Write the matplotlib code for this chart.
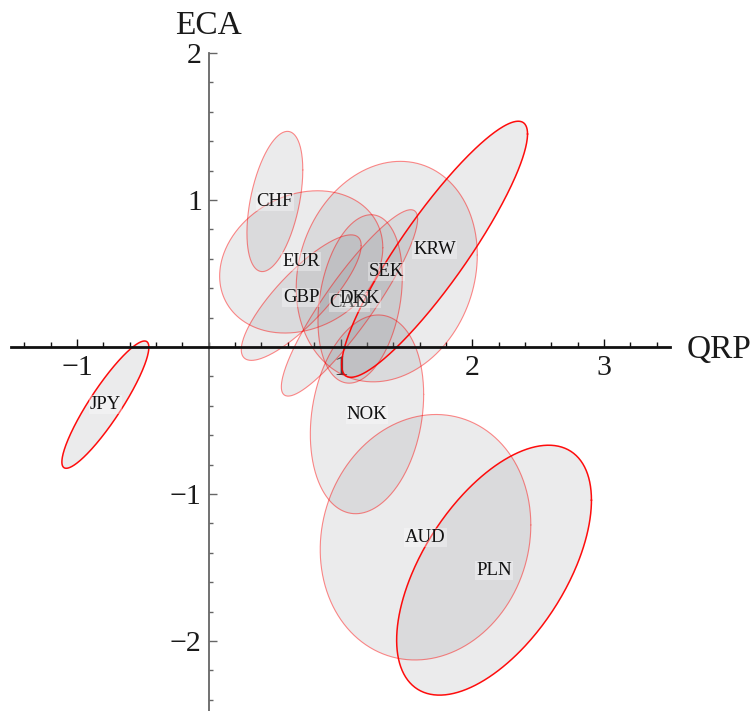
import numpy as np
import matplotlib
matplotlib.use("Agg")
import matplotlib.pyplot as plt
from matplotlib.ticker import FixedLocator, FixedFormatter

# Currency confidence regions: centre, half-widths and correlation of QRP vs ECA
currencies = ["JPY", "CHF", "EUR", "GBP", "CAD", "DKK", "SEK", "KRW", "NOK", "AUD", "PLN"]
qrp_mean = [-0.784, 0.502, 0.702, 0.702, 1.068, 1.149, 1.351, 1.714, 1.201, 1.645, 2.165]
eca_mean = [-0.392, 0.990, 0.579, 0.336, 0.300, 0.327, 0.513, 0.665, -0.458, -1.294, -1.518]
qrp_halfwidth = [0.330, 0.212, 0.619, 0.455, 0.517, 0.320, 0.687, 0.705, 0.430, 0.799, 0.739]
eca_halfwidth = [0.433, 0.477, 0.484, 0.427, 0.634, 0.573, 0.750, 0.871, 0.676, 0.835, 0.850]
correlation = [0.90, 0.45, 0.20, 0.83, 0.90, 0.26, 0.15, 0.90, 0.20, 0.10, 0.56]
highlighted = ["JPY", "KRW", "PLN"]

x_ticks = [-1, 1, 2, 3]
y_ticks = [-2, -1, 1, 2]

plt.rcParams["font.family"] = ["Liberation Serif", "DejaVu Serif"]

fig = plt.figure(figsize=(7.53, 7.11), dpi=100)
ax = fig.add_axes([11 / 753, 0, 659 / 753, 658 / 711])
ax.set_xlim(-1.5, 3.5)
ax.set_ylim(-2.476, 2.0)

t = np.linspace(0, 2 * np.pi, 400)
for name, cx, cy, wx, wy, r in zip(currencies, qrp_mean, eca_mean,
                                   qrp_halfwidth, eca_halfwidth, correlation):
    xs = cx + wx * np.cos(t)
    ys = cy + wy * (r * np.cos(t) + np.sqrt(1 - r * r) * np.sin(t))
    strong = name in highlighted
    ax.fill(xs, ys, facecolor=(0.53, 0.53, 0.545), alpha=0.16, edgecolor="none",
            zorder=2)
    ax.plot(xs, ys, color=(1.0, 0.0, 0.0), alpha=0.95 if strong else 0.45,
            lw=1.1 if strong else 0.8, zorder=3)

for name, cx, cy in zip(currencies, qrp_mean, eca_mean):
    ax.text(cx, cy, name, ha="center", va="center", fontsize=13.5,
            color="#111111", zorder=5,
            bbox=dict(boxstyle="square,pad=0.05", fc="white", ec="none", alpha=0.35))

# Axes crossing at the origin
for side in ("top", "right"):
    ax.spines[side].set_visible(False)
ax.spines["bottom"].set_position("zero")
ax.spines["left"].set_position("zero")
ax.spines["bottom"].set_color("#111111")
ax.spines["bottom"].set_linewidth(2.0)
ax.spines["left"].set_color("#666666")
ax.spines["left"].set_linewidth(1.3)
ax.spines["bottom"].set_zorder(4)
ax.spines["left"].set_zorder(4)

ax.xaxis.set_major_locator(FixedLocator(x_ticks))
ax.xaxis.set_major_formatter(FixedFormatter(["\u2212" + str(-v) if v < 0 else str(v) for v in x_ticks]))
ax.yaxis.set_major_locator(FixedLocator(y_ticks))
ax.yaxis.set_major_formatter(FixedFormatter(["\u2212" + str(-v) if v < 0 else str(v) for v in y_ticks]))
ax.xaxis.set_minor_locator(FixedLocator([v / 5 for v in range(-7, 18) if v % 5 != 0 or v == 0]))
ax.yaxis.set_minor_locator(FixedLocator([v / 5 for v in range(-12, 10) if v % 5 != 0 or v == 0]))

ax.tick_params(axis="x", which="major", direction="in", length=6, width=1.0,
               color="#111111", labelsize=21.5, pad=6)
ax.tick_params(axis="x", which="minor", direction="in", length=3.5, width=1.0,
               color="#111111")
ax.tick_params(axis="y", which="major", direction="in", length=6, width=1.0,
               color="#666666", labelsize=21.5, pad=5)
ax.tick_params(axis="y", which="minor", direction="in", length=3.2, width=1.0,
               color="#666666")
for lab in ax.get_xticklabels() + ax.get_yticklabels():
    lab.set_color("#1a1a1a")

ax.annotate("ECA", xy=(0, 2.0), xytext=(0, 13.5), textcoords="offset points",
            ha="center", va="baseline", fontsize=24, color="#1a1a1a",
            annotation_clip=False)
ax.annotate("QRP", xy=(3.5, 0), xytext=(12, -8), textcoords="offset points",
            ha="left", va="baseline", fontsize=24, color="#1a1a1a",
            annotation_clip=False)

fig.savefig("out.png", dpi=100)
